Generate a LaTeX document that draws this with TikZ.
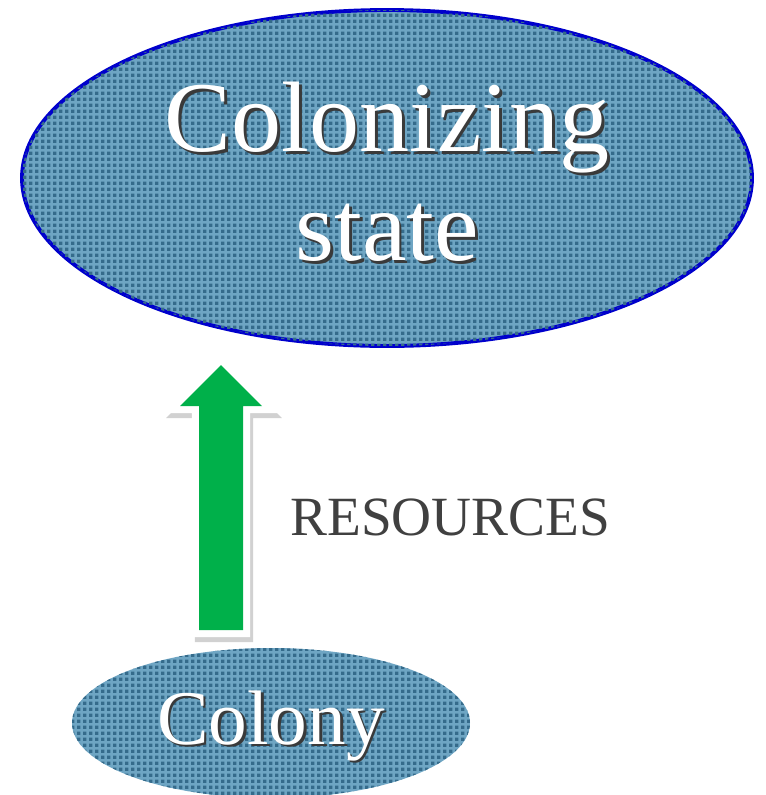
\documentclass[tikz,border=0pt]{standalone}
\usepackage{fontspec}
\setmainfont{Liberation Serif}
\usepackage{xcolor}
\usepackage{tikz}
\usetikzlibrary{shapes.geometric, positioning, calc, patterns}
\definecolor{sea}{HTML}{6EA5C3}
\definecolor{seadark}{HTML}{356B8B}
\definecolor{rim}{HTML}{0000CC}
\definecolor{leaf}{HTML}{00B04A}
\definecolor{label}{HTML}{404040}
\definecolor{shade}{HTML}{3A3A3A}
\pgfdeclarepatternformonly{checks}{\pgfqpoint{0pt}{0pt}}{\pgfqpoint{3.4pt}{3.4pt}}%
  {\pgfqpoint{3.4pt}{3.4pt}}{\pgfpathrectangle{\pgfqpoint{0pt}{0pt}}{\pgfqpoint{1.9pt}{1.9pt}}\pgfusepath{fill}}
\newcommand{\shadowed}[1]{\rlap{\kern1.6pt\raisebox{-1.6pt}{\textcolor{shade}{#1}}}#1}
\tikzset{
  blob/.style      = {ellipse, inner sep=0pt, fill=sea,
                      postaction={pattern=checks, pattern color=seadark}},
  blobrim/.style   = {blob, draw=rim, line width=2.2pt},
  bigtxt/.style    = {text=white, align=center, font=\fontsize{57}{62}\selectfont},
  midtxt/.style    = {text=white, align=center, font=\fontsize{44}{48}\selectfont},
  flowarrow/.style = {fill=leaf, preaction={draw=white, line width=8pt}},
  flowshade/.style = {fill=black, draw=black, line width=8pt, opacity=0.18},
  note/.style      = {text=label, inner sep=0pt, font=\fontsize{31.5}{36}\selectfont, anchor=base west},
}

\begin{document}
\begin{tikzpicture}[x=0.02cm, y=-0.02cm]
  \useasboundingbox (0,0) rectangle (765,795);

  % colonizing state
  \node[blobrim, minimum width=730*0.02cm, minimum height=336*0.02cm] (state) at (387,178) {};
  \node[bigtxt] (statetxt) at (387,173) {\shadowed{Colonizing}\\\shadowed{state}};

  % colony
  \node[blob, minimum width=398*0.02cm, minimum height=150*0.02cm] (colony) at (271,723) {};
  \node[midtxt] (colonytxt) at (271,727) {\shadowed{Colony}};

  % resources flow
  \coordinate (tail) at (221,630);
  \coordinate (tip) at (221,365);
  \path[flowshade] ($(tip)+(3,5)$) -- ++(41,41) -- ++(-19,0) |- ($(tail)+(25,5)$)
    -- ++(-44,0) |- ($(tip)+(-38,46)$) -- cycle;
  \path[flowarrow] (tip) -- ++(41,41) -- ++(-19,0) |- ($(tail)+(22,0)$)
    -- ++(-44,0) |- ($(tip)+(-41,41)$) -- cycle;
  \node[note] (res) at (290,535) {RESOURCES};
\end{tikzpicture}
\end{document}
